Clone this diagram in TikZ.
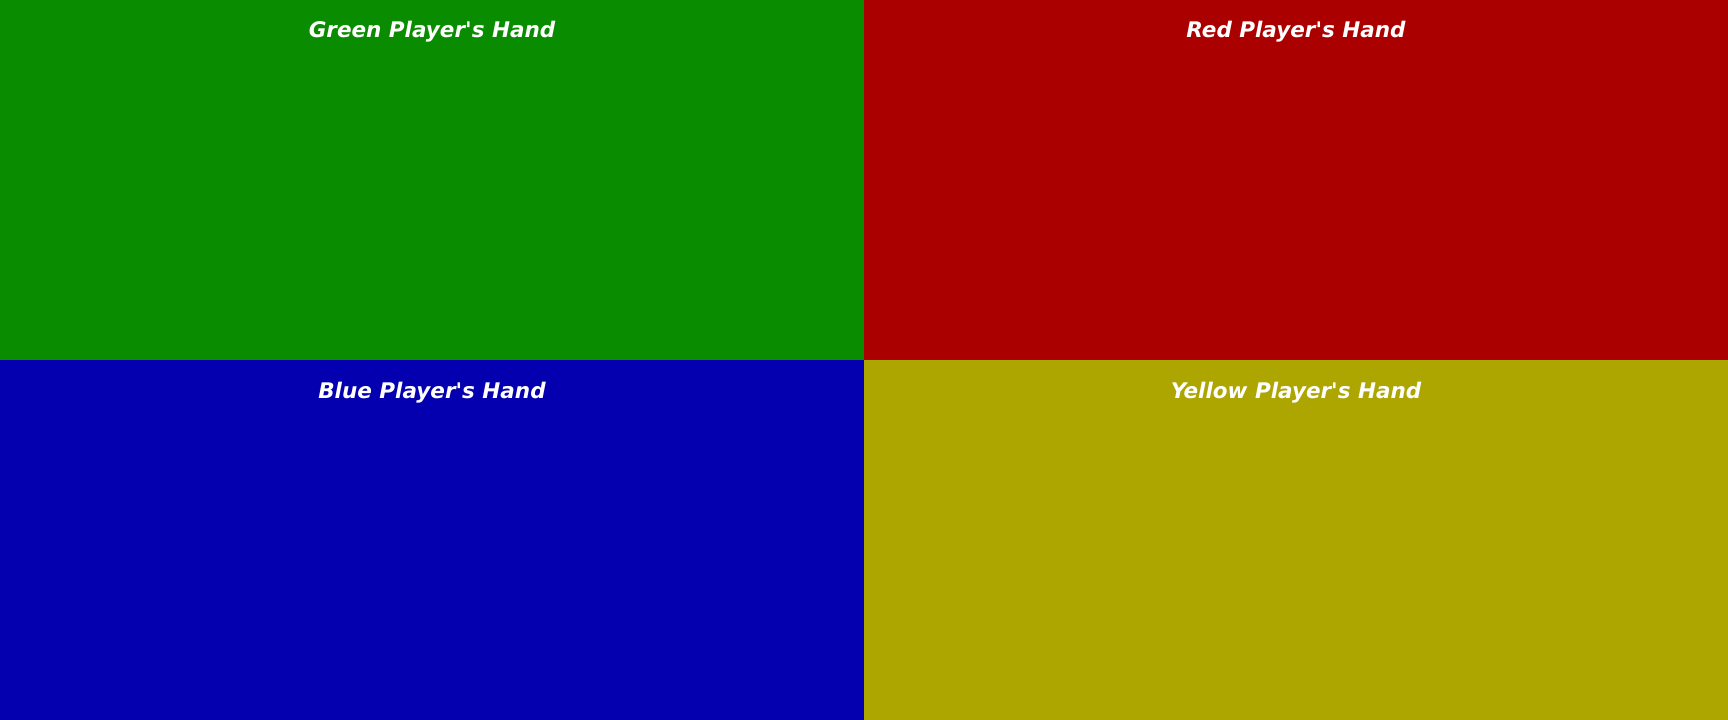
\documentclass[tikz,border=0pt]{standalone}
\usepackage{fontspec}
\newfontfamily\titlefont{DejaVu Sans}
\definecolor{qgreen}{RGB}{10,140,0}
\definecolor{qred}{RGB}{170,0,0}
\definecolor{qblue}{RGB}{5,0,175}
\definecolor{qyellow}{RGB}{173,165,0}
\tikzset{
  quad/.style={fill=#1, draw=none, inner sep=0pt, minimum width=864bp, minimum height=360bp, anchor=north west},
  handtitle/.style={text=white, font=\titlefont\bfseries\itshape\fontsize{21.5bp}{26bp}\selectfont, inner sep=0pt, anchor=base}
}
\begin{document}
\begin{tikzpicture}[x=1bp,y=-1bp]
\useasboundingbox (0,0) rectangle (1728,720);
\node[quad=qgreen] (green) at (0,0) {};
\node[quad=qred] (red) at (864,0) {};
\node[quad=qblue] (blue) at (0,360) {};
\node[quad=qyellow] (yellow) at (864,360) {};
\node[handtitle] (tg) at (432,38) {Green Player's Hand};
\node[handtitle] (tr) at (1296,38) {Red Player's Hand};
\node[handtitle] (tb) at (432,398) {Blue Player's Hand};
\node[handtitle] (ty) at (1296,398) {Yellow Player's Hand};
\end{tikzpicture}
\end{document}
